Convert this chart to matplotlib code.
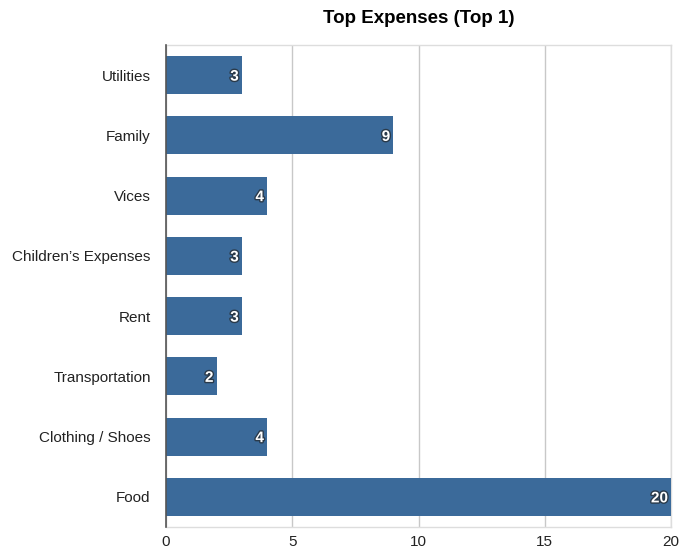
import matplotlib
matplotlib.use("Agg")
import matplotlib.pyplot as plt
import matplotlib.patheffects as pe

categories = ["Food", "Clothing / Shoes", "Transportation", "Rent",
              "Children’s Expenses", "Vices", "Family", "Utilities"]
values = [20, 4, 2, 3, 3, 4, 9, 3]
xticks = [0, 5, 10, 15, 20]

plt.rcParams['font.family'] = ['Liberation Sans', 'DejaVu Sans']

fig = plt.figure(figsize=(6.8, 5.51), dpi=100)
ax = fig.add_axes([166/680, 1 - 527/551, (671-166)/680, (527-45)/551])

ypos = list(range(len(categories)))
ax.barh(ypos, values, height=0.63, color="#3b6a9a", zorder=3)
ax.set_ylim(-0.5, len(categories) - 0.5)
ax.set_xlim(0, 20)
ax.set_yticks(ypos)
ax.set_yticklabels(categories, fontsize=11, color="#222222")
ax.set_xticks(xticks)
ax.set_xticklabels([str(t) for t in xticks], fontsize=11, color="#222222")
ax.tick_params(axis='y', length=0, pad=11)
ax.tick_params(axis='x', length=0, pad=6)

ax.grid(axis='x', color="#c8c8c8", linewidth=1, zorder=0)
for s in ["top", "bottom", "right"]:
    ax.spines[s].set_color("#dddddd")
    ax.spines[s].set_linewidth(1)
ax.spines["left"].set_color("#555555")
ax.spines["left"].set_linewidth(1.2)
ax.spines["left"].set_zorder(4)

for y, v in zip(ypos, values):
    ax.text(v - 0.12, y, str(v), ha="right", va="center_baseline", color="white",
            fontsize=11, fontweight="bold", zorder=5,
            path_effects=[pe.withStroke(linewidth=2, foreground="#2a3a4a")])

ax.set_title("Top Expenses (Top 1)", fontsize=13.5, fontweight="bold", pad=16)

fig.savefig("out.png", dpi=100)
